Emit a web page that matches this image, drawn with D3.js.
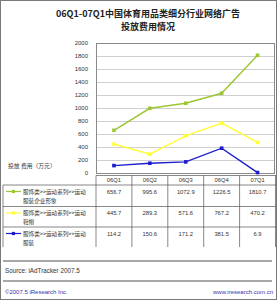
<!DOCTYPE html>
<html>
<head>
<meta charset="utf-8">
<script src="https://cdn.jsdelivr.net/npm/d3@7"></script>
<style>
  body { margin: 0; background: #fff; }
  svg { display: block; }
  text { font-family: "Liberation Sans", Arial, sans-serif; }
  .cjk { font-family: "Noto Sans CJK SC", sans-serif; }
</style>
</head>
<body>
<script>
const quarters = ["06Q1", "06Q2", "06Q3", "06Q4", "07Q1"];
const seriesNames = [
  ["服饰类>>运动系列>>运动", "服装企业形象"],
  ["服饰类>>运动系列>>运动", "鞋帽"],
  ["服饰类>>运动系列>>运动", "服装"]
];
const brandValues = [656.7, 995.6, 1072.9, 1226.5, 1810.7];
const shoeValues = [445.7, 289.3, 571.6, 767.2, 470.2];
const apparelValues = [114.2, 150.6, 171.2, 381.5, 6.9];
const yTicks = [0, 200, 400, 600, 800, 1000, 1200, 1400, 1600, 1800, 2000];
const seriesColors = ["#9cc634", "#ffff3a", "#1c1ccc"];

const width = 277;
const height = 300;

let graph = d3
  .select("body")
  .append("svg")
  .attr("width", width)
  .attr("height", height);

// outer frame
graph
  .append("rect")
  .attr("x", 0.5)
  .attr("y", 0.5)
  .attr("width", width - 1)
  .attr("height", height - 1)
  .attr("fill", "#fff")
  .attr("stroke", "#7a7a7a");

// title
graph
  .append("text")
  .attr("class", "cjk")
  .attr("x", 148)
  .attr("y", 17)
  .attr("text-anchor", "middle")
  .attr("font-size", 9)
  .attr("font-weight", "bold")
  .attr("fill", "#222")
  .text("06Q1-07Q1中国体育用品类细分行业网络广告");
graph
  .append("text")
  .attr("class", "cjk")
  .attr("x", 148)
  .attr("y", 30)
  .attr("text-anchor", "middle")
  .attr("font-size", 9)
  .attr("font-weight", "bold")
  .attr("fill", "#222")
  .text("投放费用情况");

let series = [brandValues, shoeValues, apparelValues];

// scales
let x = d3.scaleBand().domain(quarters).range([96, 275.5]).padding(0);
let y = d3.scaleLinear().domain([0, 2000]).range([173, 43]);
let cx = q => x(q) + x.bandwidth() / 2;

// gridlines
graph
  .append("g")
  .selectAll("line")
  .data(yTicks.filter(t => t > 0 && t < 2000))
  .enter()
  .append("line")
  .attr("x1", 96)
  .attr("x2", 274)
  .attr("y1", d => Math.round(y(d)) + 0.5)
  .attr("y2", d => Math.round(y(d)) + 0.5)
  .attr("stroke", "#cfcfcf");

// plot frame
graph
  .append("rect")
  .attr("x", 96.5)
  .attr("y", 43.5)
  .attr("width", 178)
  .attr("height", 130)
  .attr("fill", "none")
  .attr("stroke", "#8a8a8a");

// y axis labels
let yAxis = d3
  .axisLeft(y)
  .tickValues(yTicks)
  .tickSize(0)
  .tickPadding(8)
  .tickFormat(d3.format("d"));
let yg = graph
  .append("g")
  .attr("transform", "translate(96,0)")
  .call(yAxis);
yg.select(".domain").remove();
yg.selectAll("text")
  .attr("font-family", "Liberation Sans, Arial, sans-serif")
  .attr("font-size", 6)
  .attr("fill", "#333");

// y axis title
graph
  .append("text")
  .attr("class", "cjk")
  .attr("x", 8)
  .attr("y", 168)
  .attr("font-size", 5.8)
  .attr("fill", "#333")
  .text("投放 费用（万元）");

// lines + markers
let line = d3
  .line()
  .x((d, i) => cx(quarters[i]))
  .y(d => y(d));

series.forEach((vals, s) => {
  graph
    .append("path")
    .datum(vals)
    .attr("d", line)
    .attr("fill", "none")
    .attr("stroke", seriesColors[s])
    .attr("stroke-width", 1.4);
  graph
    .append("g")
    .selectAll("rect")
    .data(vals)
    .enter()
    .append("rect")
    .attr("x", (d, i) => cx(quarters[i]) - 1.8)
    .attr("y", d => y(d) - 1.8)
    .attr("width", 3.6)
    .attr("height", 3.6)
    .attr("fill", seriesColors[s]);
});

// data table
let rowTops = [185, 206.5, 227, 247];
let tableLine = "#555";
let table = graph.append("g");

// header top line (data columns only)
table
  .append("line")
  .attr("x1", 96)
  .attr("x2", 276)
  .attr("y1", 175.5)
  .attr("y2", 175.5)
  .attr("stroke", tableLine)
  .attr("stroke-width", 0.7);

// row lines
rowTops.slice(0, 3).forEach(r => {
  table
    .append("line")
    .attr("x1", 3)
    .attr("x2", 276)
    .attr("y1", r)
    .attr("y2", r)
    .attr("stroke", tableLine)
    .attr("stroke-width", 0.7);
});

// vertical lines
let colEdges = quarters.map(q => x(q)).concat([x.range()[1]]);
colEdges.forEach(e => {
  table
    .append("line")
    .attr("x1", e)
    .attr("x2", e)
    .attr("y1", 175.5)
    .attr("y2", 247)
    .attr("stroke", tableLine)
    .attr("stroke-width", 0.7);
});
table
  .append("line")
  .attr("x1", 3)
  .attr("x2", 3)
  .attr("y1", 185)
  .attr("y2", 247)
  .attr("stroke", tableLine)
  .attr("stroke-width", 0.7);

// header labels
table
  .selectAll(".qlabel")
  .data(quarters)
  .enter()
  .append("text")
  .attr("class", "qlabel")
  .attr("x", d => cx(d))
  .attr("y", 182)
  .attr("text-anchor", "middle")
  .attr("font-size", 5.8)
  .attr("fill", "#333")
  .text(d => d);

// rows
series.forEach((vals, s) => {
  let top = rowTops[s];
  let ly = top + 6.5;

  // legend key
  table
    .append("line")
    .attr("x1", 6)
    .attr("x2", 21)
    .attr("y1", ly)
    .attr("y2", ly)
    .attr("stroke", seriesColors[s])
    .attr("stroke-width", 1.2);
  table
    .append("rect")
    .attr("x", 11.8)
    .attr("y", ly - 1.6)
    .attr("width", 3.2)
    .attr("height", 3.2)
    .attr("fill", seriesColors[s]);

  seriesNames[s].forEach((t, k) => {
    table
      .append("text")
      .attr("class", "cjk")
      .attr("x", 23)
      .attr("y", ly + 2 + k * 9)
      .attr("font-size", 5.6)
      .attr("fill", "#333")
      .text(t);
  });

  table
    .append("g")
    .selectAll("text")
    .data(vals)
    .enter()
    .append("text")
    .attr("x", (d, i) => cx(quarters[i]))
    .attr("y", ly + 2)
    .attr("text-anchor", "middle")
    .attr("font-size", 5.8)
    .attr("fill", "#333")
    .text(d => d.toFixed(1));
});

// separators
[261, 281].forEach(ry => {
  graph
    .append("line")
    .attr("x1", 3)
    .attr("x2", 272)
    .attr("y1", ry)
    .attr("y2", ry)
    .attr("stroke", "#a8a8a8")
    .attr("stroke-width", 2);
});

// source + footer
graph
  .append("text")
  .attr("x", 5)
  .attr("y", 272.5)
  .attr("font-size", 6.3)
  .attr("fill", "#333")
  .text("Source: iAdTracker 2007.5");

graph
  .append("text")
  .attr("x", 5)
  .attr("y", 293.5)
  .attr("font-size", 6)
  .attr("fill", "#3333aa")
  .text("©2007.5 iResearch Inc.");

graph
  .append("text")
  .attr("x", 273)
  .attr("y", 293.5)
  .attr("text-anchor", "end")
  .attr("font-size", 6)
  .attr("fill", "#3333aa")
  .text("www.iresearch.com.cn");
</script>
</body>
</html>
